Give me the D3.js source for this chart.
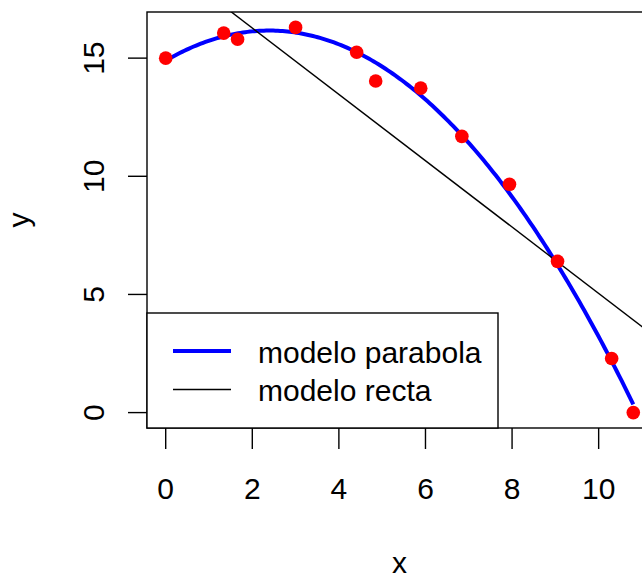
<!DOCTYPE html>
<html>
<head>
<meta charset="utf-8">
<script src="https://cdn.jsdelivr.net/npm/d3@7"></script>
<style>
  html, body { margin: 0; padding: 0; background: #fff; }
  svg { display: block; }
  text { font-family: "Liberation Sans", Arial, Helvetica, sans-serif; fill: #000; }
</style>
</head>
<body>
<svg id="chart" width="642" height="578"></svg>
<script>
// ---- data ----
const xValues = [0, 1.34, 1.66, 3.0, 4.41, 4.85, 5.89, 6.84, 7.94, 9.05, 10.3, 10.8];
const yValues = [15.0, 16.06, 15.8, 16.3, 15.25, 14.03, 13.73, 11.69, 9.66, 6.40, 2.29, 0.0];
const xTicks = [0, 2, 4, 6, 8, 10];
const yTicks = [0, 5, 10, 15];
const legendLabels = ["modelo parabola", "modelo recta"];
const xLabel = "x";
const yLabel = "y";

// ---- least squares fits (models fitted to the data) ----
function solve(A, b) {
  const n = b.length;
  const M = A.map((r, i) => r.concat([b[i]]));
  for (let i = 0; i < n; i++) {
    let p = i;
    for (let k = i + 1; k < n; k++) if (Math.abs(M[k][i]) > Math.abs(M[p][i])) p = k;
    [M[i], M[p]] = [M[p], M[i]];
    for (let k = 0; k < n; k++) {
      if (k === i) continue;
      const f = M[k][i] / M[i][i];
      for (let j = i; j <= n; j++) M[k][j] -= f * M[i][j];
    }
  }
  return M.map((r, i) => r[n] / r[i]);
}
function polyfit(xs, ys, deg) {
  const m = deg + 1;
  const A = Array.from({length: m}, () => Array(m).fill(0));
  const b = Array(m).fill(0);
  xs.forEach((xv, k) => {
    for (let i = 0; i < m; i++) {
      b[i] += ys[k] * Math.pow(xv, i);
      for (let j = 0; j < m; j++) A[i][j] += Math.pow(xv, i + j);
    }
  });
  return solve(A, b);
}
const quad = polyfit(xValues, yValues, 2);
const lin = polyfit(xValues, yValues, 1);
const fq = v => quad[0] + quad[1] * v + quad[2] * v * v;
const fl = v => lin[0] + lin[1] * v;

// ---- layout ----
const svg = d3.select("#chart");
const pLeft = 147, pRight = 652, pTop = 12, pBottom = 428;
const xMin = d3.min(xValues), xMax = d3.max(xValues);
const yMin = d3.min(yValues), yMax = d3.max(yValues);
const xPad = (xMax - xMin) * 0.04, yPad = (yMax - yMin) * 0.04;
const x = d3.scaleLinear().domain([xMin - xPad, xMax + xPad]).range([pLeft, pRight]);
const y = d3.scaleLinear().domain([yMin - yPad, yMax + yPad]).range([pBottom, pTop]);

svg.append("defs").append("clipPath").attr("id", "clip")
  .append("rect").attr("x", pLeft).attr("y", pTop).attr("width", pRight - pLeft).attr("height", pBottom - pTop);

const plot = svg.append("g").attr("clip-path", "url(#clip)");

// parabola curve
const curveX = d3.range(0, 201).map(i => xMin + (xMax - xMin) * i / 200);
plot.append("path")
  .datum(curveX)
  .attr("fill", "none")
  .attr("stroke", "#0000ff")
  .attr("stroke-width", 4)
  .attr("d", d3.line().x(d => x(d)).y(d => y(fq(d))));

// straight line (abline)
const [dx0, dx1] = x.domain();
plot.append("line")
  .attr("x1", x(dx0)).attr("y1", y(fl(dx0)))
  .attr("x2", x(dx1)).attr("y2", y(fl(dx1)))
  .attr("stroke", "#000").attr("stroke-width", 1.4);

// points
svg.append("g").selectAll("circle")
  .data(xValues.map((v, i) => [v, yValues[i]]))
  .join("circle")
  .attr("cx", d => x(d[0]))
  .attr("cy", d => y(d[1]))
  .attr("r", 6.8)
  .attr("fill", "#ff0000");

// box
svg.append("rect")
  .attr("x", pLeft).attr("y", pTop).attr("width", pRight - pLeft).attr("height", pBottom - pTop)
  .attr("fill", "none").attr("stroke", "#000").attr("stroke-width", 1.4);

// x axis
const xAxisG = svg.append("g").attr("transform", `translate(0,${pBottom})`);
xAxisG.selectAll("line").data(xTicks).join("line")
  .attr("x1", d => x(d)).attr("x2", d => x(d))
  .attr("y1", 0).attr("y2", 21)
  .attr("stroke", "#000").attr("stroke-width", 1.4);
xAxisG.selectAll("text").data(xTicks).join("text")
  .attr("x", d => x(d)).attr("y", 71)
  .attr("text-anchor", "middle")
  .style("font-size", "30px")
  .text(d => d);

// y axis
const yAxisG = svg.append("g");
yAxisG.selectAll("line").data(yTicks).join("line")
  .attr("x1", pLeft - 19).attr("x2", pLeft)
  .attr("y1", d => y(d)).attr("y2", d => y(d))
  .attr("stroke", "#000").attr("stroke-width", 1.4);
yAxisG.selectAll("text").data(yTicks).join("text")
  .attr("transform", d => `translate(104,${y(d)}) rotate(-90)`)
  .attr("text-anchor", "middle")
  .style("font-size", "30px")
  .text(d => d);

// axis titles
svg.append("text")
  .attr("x", (pLeft + pRight) / 2).attr("y", 573)
  .attr("text-anchor", "middle")
  .style("font-size", "30px")
  .text(xLabel);
svg.append("text")
  .attr("transform", `translate(29,${(pTop + pBottom) / 2}) rotate(-90)`)
  .attr("text-anchor", "middle")
  .style("font-size", "30px")
  .text(yLabel);

// legend
const leg = svg.append("g");
leg.append("rect")
  .attr("x", pLeft).attr("y", 313).attr("width", 498 - pLeft).attr("height", pBottom - 313)
  .attr("fill", "#fff").attr("stroke", "#000").attr("stroke-width", 1.4);
const legStyles = [{color: "#0000ff", w: 4}, {color: "#000", w: 1.4}];
legendLabels.forEach((lab, i) => {
  const cy = 351 + i * 38.5;
  leg.append("line")
    .attr("x1", 173).attr("x2", 231).attr("y1", cy).attr("y2", cy)
    .attr("stroke", legStyles[i].color).attr("stroke-width", legStyles[i].w);
  leg.append("text")
    .attr("x", 258).attr("y", cy + 11.5)
    .style("font-size", "30px")
    .text(lab);
});
</script>
</body>
</html>
